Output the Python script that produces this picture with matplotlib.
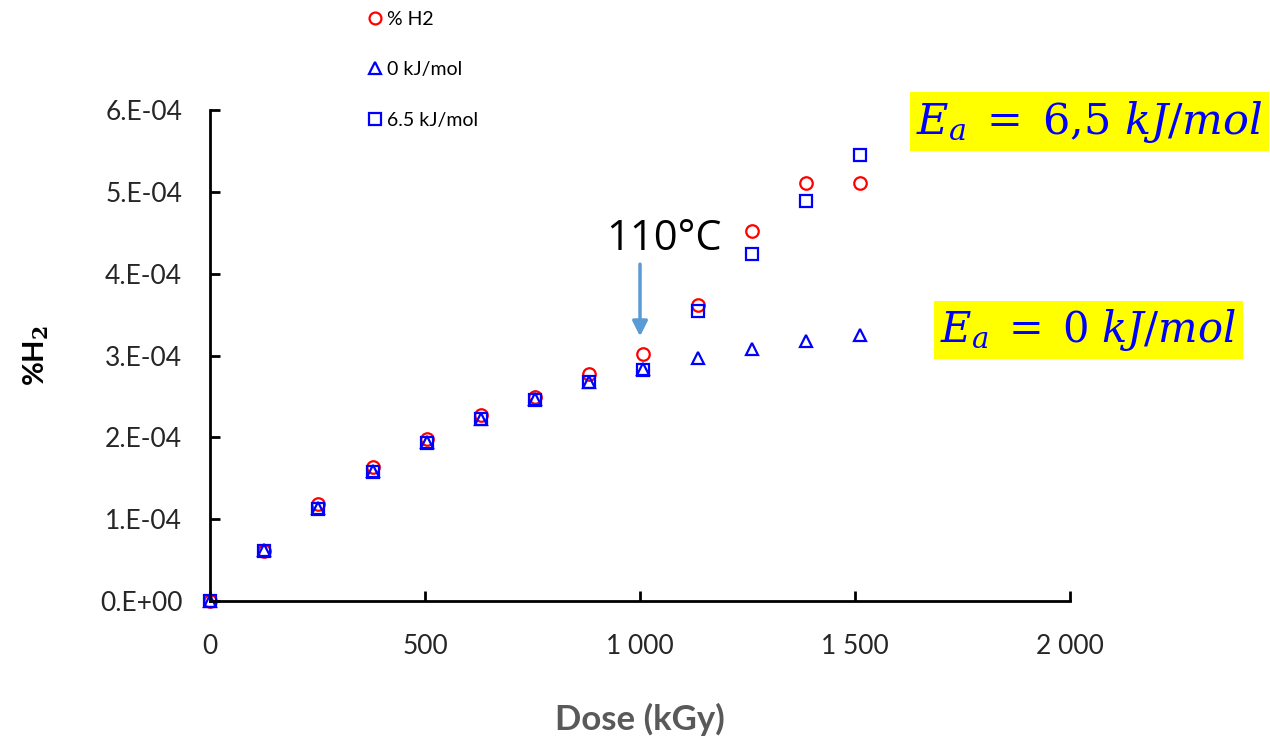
import matplotlib
matplotlib.use("Agg")
import matplotlib.pyplot as plt

# dose (kGy)
dose = [0, 126, 252, 378, 504, 630, 756, 882, 1008, 1134, 1260, 1386, 1512]

# measured %H2
h2_measured = [0.0, 0.61e-4, 1.19e-4, 1.64e-4, 1.98e-4, 2.27e-4, 2.49e-4,
               2.77e-4, 3.02e-4, 3.62e-4, 4.52e-4, 5.11e-4, 5.11e-4]
# model, Ea = 0 kJ/mol
h2_ea0 = [0.0, 0.62e-4, 1.14e-4, 1.59e-4, 1.94e-4, 2.23e-4, 2.47e-4,
          2.68e-4, 2.84e-4, 2.97e-4, 3.08e-4, 3.18e-4, 3.25e-4]
# model, Ea = 6.5 kJ/mol
h2_ea65 = [0.0, 0.61e-4, 1.12e-4, 1.58e-4, 1.93e-4, 2.22e-4, 2.46e-4,
           2.68e-4, 2.82e-4, 3.54e-4, 4.24e-4, 4.89e-4, 5.45e-4]

series_labels = ["% H2", "0 kJ/mol", "6.5 kJ/mol"]

x_ticks = [0, 500, 1000, 1500, 2000]
x_ticklabels = ["0", "500", "1 000", "1 500", "2 000"]
y_ticks = [0, 1e-4, 2e-4, 3e-4, 4e-4, 5e-4, 6e-4]
y_ticklabels = ["0.E+00", "1.E-04", "2.E-04", "3.E-04", "4.E-04", "5.E-04", "6.E-04"]

plt.rcParams["font.family"] = ["Lato", "DejaVu Sans"]
plt.rcParams["mathtext.fontset"] = "dejavuserif"

fig = plt.figure(figsize=(12.7, 7.38), dpi=100)
ax = fig.add_axes([0.1654, 0.1856, 0.6771, 0.6653])

mk = dict(linestyle="none", markersize=9, markeredgewidth=1.6,
          markerfacecolor="none", clip_on=False)
ax.plot(dose, h2_measured, marker="o", markeredgecolor="#ff0000",
        label=series_labels[0], **mk)
ax.plot(dose, h2_ea0, marker="^", markeredgecolor="#0000ff",
        label=series_labels[1], **mk)
ax.plot(dose, h2_ea65, marker="s", markeredgecolor="#0000ff",
        label=series_labels[2], **mk)

ax.set_xlim(0, 2000)
ax.set_ylim(0, 6e-4)
ax.set_xticks(x_ticks)
ax.set_xticklabels(x_ticklabels)
ax.set_yticks(y_ticks)
ax.set_yticklabels(y_ticklabels)
ax.tick_params(direction="in", length=7, width=2, labelsize=19, pad=20,
               colors="black", labelcolor="#262626")
ax.tick_params(axis="x", pad=24)
for side in ["top", "right"]:
    ax.spines[side].set_visible(False)
for side in ["left", "bottom"]:
    ax.spines[side].set_linewidth(2)

ax.set_xlabel("Dose (kGy)", fontsize=25, fontweight="bold", color="#595959",
              labelpad=31)
ax.set_ylabel("%H$_\\mathbf{2}$", fontsize=21, fontweight="bold", labelpad=35)

fig.legend(loc="upper left", bbox_to_anchor=(0.274, 1.009), frameon=False,
           fontsize=14, labelspacing=1.72, handletextpad=0.1,
           handlelength=1.0, markerscale=0.95)

# 110°C marker
ax.annotate("", xy=(1000, 3.2e-4), xytext=(1000, 4.15e-4),
            arrowprops=dict(arrowstyle="-|>,head_width=0.45,head_length=0.9",
                            color="#5b9bd5", lw=2.5))
ax.text(1055, 4.43e-4, "110°C", fontsize=30, ha="center", va="center",
        family=["Open Sans", "DejaVu Sans"])

box = dict(boxstyle="square,pad=0.15", facecolor="#ffff00", edgecolor="none")
fig.text(0.858, 0.835, r"$E_a\;=\;6{,}5\ kJ/mol$", fontsize=31, color="#0000ff",
         ha="center", va="center", bbox=box)
fig.text(0.857, 0.553, r"$E_a\;=\;0\ kJ/mol$", fontsize=30, color="#0000ff",
         ha="center", va="center", bbox=box)

fig.savefig("out.png", dpi=100)
